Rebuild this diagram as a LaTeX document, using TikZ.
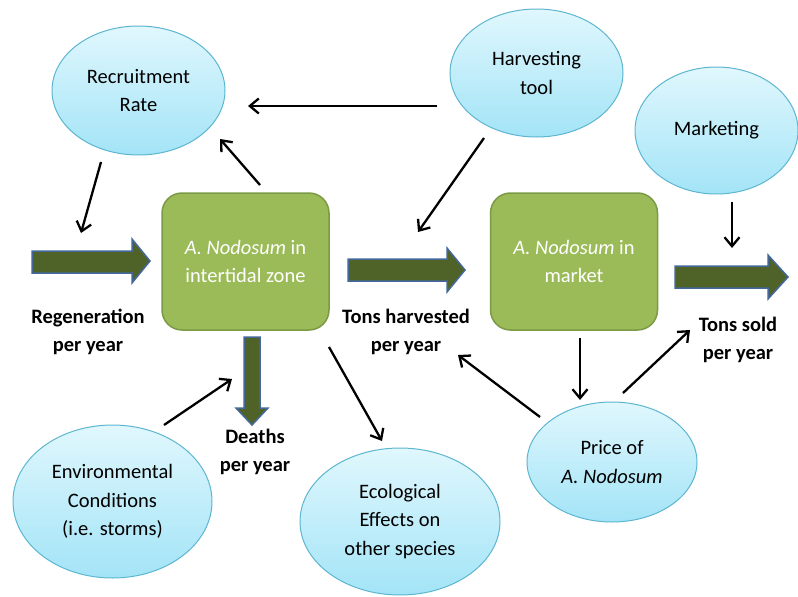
\documentclass[tikz,border=0pt]{standalone}
\usepackage{fontspec}
\setmainfont{Carlito}
\usetikzlibrary{shapes.geometric,arrows.meta}
\definecolor{skytop}{HTML}{E0F7FD}
\definecolor{skybot}{HTML}{A3E4F7}
\definecolor{skyline}{HTML}{5DB6D0}
\definecolor{leaf}{HTML}{9BBB59}
\definecolor{leafline}{HTML}{7B9A45}
\definecolor{flowfill}{HTML}{4F6228}
\definecolor{flowline}{HTML}{44689A}
\newcommand{\bodyfont}{\fontsize{20.5}{28.5}\selectfont}
\tikzset{
  factor/.style={ellipse, draw=skyline, line width=1pt, top color=skytop,
    bottom color=skybot, inner sep=0pt, align=center, text=black},
  stock/.style={rectangle, rounded corners=20pt, draw=leafline, line width=1.5pt,
    fill=leaf, text=white, align=center, inner sep=0pt,
    minimum width=167pt, minimum height=137pt},
  flow/.style={draw=flowline, fill=flowfill, line width=1.5pt, line join=miter},
  label/.style={align=center, font=\bodyfont\bfseries},
  link/.style={draw=black, line width=2.3pt,
    -{Straight Barb[length=9pt,width=15pt,line width=2.3pt]}},
}
\begin{document}
\begin{tikzpicture}[x=1pt,y=-1pt,font=\bodyfont]
\useasboundingbox (0,0) rectangle (798,597);

% factors
\node[factor, minimum width=173pt, minimum height=129pt] (recruit) at (138.5,90.5) {Recruitment\\Rate};
\node[factor, minimum width=173pt, minimum height=128pt] (harv) at (536.5,73) {Harvesting\\tool};
\node[factor, minimum width=163pt, minimum height=127pt] (market) at (716.5,130.5) {Marketing};
\node[factor, minimum width=199pt, minimum height=153pt] (env) at (112.5,501.5) {Environmental\\Conditions\\(i.e. storms)};
\node[factor, minimum width=200pt, minimum height=147pt] (eco) at (400,521.5) {Ecological\\Effects on\\other species};
\node[factor, minimum width=170pt, minimum height=120pt] (price) at (612,462) {Price of\\\textit{A. Nodosum}};

% stocks
\node[stock] (zone) at (245.5,261.5) {\textit{A. Nodosum} in\\intertidal zone};
\node[stock] (mkt) at (574,261.5) {\textit{A. Nodosum} in\\market};

% flows
\draw[flow] (32,251) -- (132,251) -- (132,239) -- (150,261) -- (132,283) -- (132,273) -- (32,273) -- cycle;
\draw[flow] (348,259) -- (447,259) -- (447,248) -- (465,270) -- (447,292) -- (447,281) -- (348,281) -- cycle;
\draw[flow] (675,266) -- (768,266) -- (768,255) -- (788,277) -- (768,299) -- (768,288) -- (675,288) -- cycle;
\draw[flow] (244,337) -- (260,337) -- (260,408) -- (268,408) -- (252,425) -- (236,408) -- (244,408) -- cycle;

% flow labels
\node[label] (regen) at (88,332) {Regeneration\\per year};
\node[label] (harvested) at (406,332) {Tons harvested\\per year};
\node[label] (deaths) at (255,452) {Deaths\\per year};
\node[label] (sold) at (738,340) {Tons sold\\per year};

% connector ends
\coordinate (h-out) at (437,106);   \coordinate (r-in) at (248,106);
\coordinate (z-out) at (260,185);   \coordinate (r-in2) at (220,139);
\coordinate (r-out) at (101,162);   \coordinate (regen-in) at (81,233);
\coordinate (h-out2) at (484,138);  \coordinate (harv-in) at (418,232);
\coordinate (m-out) at (732,202);   \coordinate (sold-in) at (732,248);
\coordinate (k-out) at (580,338);   \coordinate (p-in) at (580,400);
\coordinate (p-out) at (540,417);   \coordinate (th-in) at (458,355);
\coordinate (p-out2) at (623,393);  \coordinate (ts-in) at (690,330);
\coordinate (e-out) at (164,425);   \coordinate (d-in) at (232,379);
\coordinate (z-out2) at (329,347);  \coordinate (eco-in) at (382,441);

% influences
\draw[link] (h-out) -- (r-in);
\draw[link] (z-out) -- (r-in2);
\draw[link] (r-out) -- (regen-in);
\draw[link] (h-out2) -- (harv-in);
\draw[link] (m-out) -- (sold-in);
\draw[link] (k-out) -- (p-in);
\draw[link] (p-out) -- (th-in);
\draw[link] (p-out2) -- (ts-in);
\draw[link] (e-out) -- (d-in);
\draw[link] (z-out2) -- (eco-in);
\end{tikzpicture}
\end{document}
